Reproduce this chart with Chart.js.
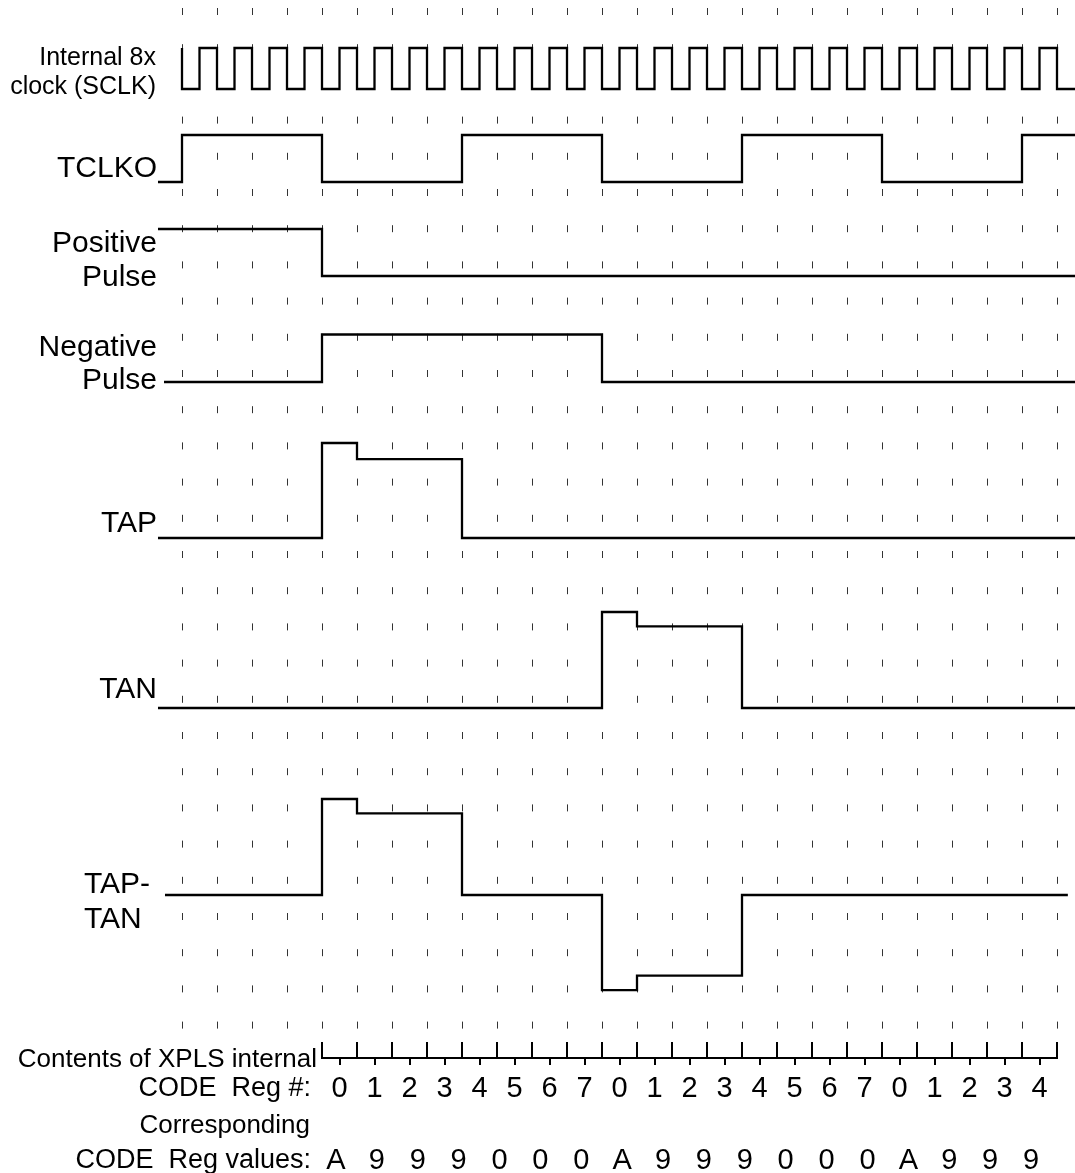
<!DOCTYPE html>
<html><head><meta charset="utf-8">
<script src="https://cdn.jsdelivr.net/npm/chart.js@4.4.1/dist/chart.umd.min.js"></script>
<style>html,body{margin:0;padding:0;background:#fff;}#wrap{width:1075px;height:1173px;}canvas{display:block;}</style>
</head><body><div id="wrap"><canvas id="c" width="1075" height="1173"></canvas></div>
<script>
// ---------------- DATA ----------------
// grid columns (clock periods)
const gridColumns = [0,1,2,3,4,5,6,7,8,9,10,11,12,13,14,15,16,17,18,19,20,21,22,23,24,25];

// signal transitions: time (in clock periods) and new logical level
const sclkTimes  = [0,0.5,1,1.5,2,2.5,3,3.5,4,4.5,5,5.5,6,6.5,7,7.5,8,8.5,9,9.5,10,10.5,11,11.5,12,12.5,13,13.5,14,14.5,15,15.5,16,16.5,17,17.5,18,18.5,19,19.5,20,20.5,21,21.5,22,22.5,23,23.5,24,24.5,25];
const sclkLevels = [0,1,0,1,0,1,0,1,0,1,0,1,0,1,0,1,0,1,0,1,0,1,0,1,0,1,0,1,0,1,0,1,0,1,0,1,0,1,0,1,0,1,0,1,0,1,0,1,0,1,0];
const tclkoTimes  = [0,4,8,12,16,20,24];
const tclkoLevels = [1,0,1,0,1,0,1];
const posTimes  = [4];
const posLevels = [0];
const negTimes  = [4,12];
const negLevels = [1,0];
const tapTimes  = [4,5,8];
const tapLevels = [1,0.83,0];
const tanTimes  = [12,13,16];
const tanLevels = [1,0.85,0];
const diffTimes  = [4,5,8,12,13,16];
const diffLevels = [1,0.85,0,-0.99,-0.84,0];
const initialLevels = [1,0,1,0,0,0,0];

const signalLabels = [["Internal 8x","clock (SCLK)"],["TCLKO"],["Positive","Pulse"],["Negative","Pulse"],["TAP"],["TAN"],["TAP-","TAN"]];

const regNumbers = ["0","1","2","3","4","5","6","7","0","1","2","3","4","5","6","7","0","1","2","3","4"];
const regValues  = ["A","9","9","9","0","0","0","A","9","9","9","0","0","0","A","9","9","9"];
const bottomLabels = ["Contents of XPLS internal","CODE  Reg #:","Corresponding","CODE  Reg values:"];

// ---------------- LAYOUT ----------------
const FONT = '"Liberation Sans", Arial, Helvetica, sans-serif';
const W = 1075, H = 1173;
const areaLeft = 150, areaTop = 8, areaBottom = 1030;
const col0Px = 182, colPx = 35;
const xMin = -(col0Px - areaLeft) / colPx;
const xMax = xMin + (W - areaLeft) / colPx;
const endX = xMax;
// lanes: [start, end, baseline(px), amplitude(px)]
const lanes = [
  [0,      endX,  89, 41],
  [-0.686, endX, 182, 47],
  [-0.686, endX, 276, 47],
  [-0.514, endX, 382, 47.5],
  [-0.686, endX, 538, 95],
  [-0.686, endX, 708, 96],
  [-0.486, 25.31, 895, 96]
];
const seriesTimes  = [sclkTimes, tclkoTimes, posTimes, negTimes, tapTimes, tanTimes, diffTimes];
const seriesLevels = [sclkLevels, tclkoLevels, posLevels, negLevels, tapLevels, tanLevels, diffLevels];
// label layout: [align, x, size, baselines]
const labelLayout = [
  ['right', 156, 25, [65, 94]],
  ['right', 157, 30, [177]],
  ['right', 157, 30, [252, 286]],
  ['right', 157, 30, [356, 389]],
  ['right', 157, 30, [532]],
  ['right', 157, 30, [698]],
  ['left',  84, 30, [893, 928]]
];

const datasets = lanes.map((ln, i) => {
  const [start, end, base, amp] = ln;
  const y = lv => base - amp * lv;
  const pts = [{x: start, y: y(initialLevels[i])}];
  seriesTimes[i].forEach((t, k) => pts.push({x: t, y: y(seriesLevels[i][k])}));
  pts.push({x: end, y: y(seriesLevels[i][seriesLevels[i].length - 1])});
  return {
    label: signalLabels[i].join(' '),
    data: pts, showLine: true, stepped: true,
    borderColor: '#000', borderWidth: 2.3, pointRadius: 0,
    borderJoinStyle: 'miter', borderCapStyle: 'butt', fill: false
  };
});

const textPlugin = {
  id: 'timingText',
  afterDraw(chart) {
    const ctx = chart.ctx, xs = chart.scales.x;
    ctx.save();
    ctx.fillStyle = '#000';
    ctx.strokeStyle = '#000';
    ctx.textBaseline = 'alphabetic';
    signalLabels.forEach((lines, i) => {
      const [align, x, size, bases] = labelLayout[i];
      ctx.font = size + 'px ' + FONT;
      ctx.textAlign = align;
      lines.forEach((t, k) => ctx.fillText(t, x, bases[k]));
    });
    // register axis
    const regStart = 4.5, axisY = 1058;
    const c0 = regStart - 0.5, c1 = regStart - 0.5 + regNumbers.length;
    ctx.lineWidth = 2;
    ctx.beginPath();
    ctx.moveTo(xs.getPixelForValue(c0) - 1, axisY);
    ctx.lineTo(xs.getPixelForValue(c1) + 1, axisY);
    for (let i = 0; i <= regNumbers.length; i++) {
      const px = Math.round(xs.getPixelForValue(c0 + i));
      ctx.moveTo(px, axisY);
      ctx.lineTo(px, axisY - 16);
    }
    for (let i = 0; i < regNumbers.length; i++) {
      const px = Math.round(xs.getPixelForValue(regStart + i));
      ctx.moveTo(px, axisY);
      ctx.lineTo(px, axisY + 7);
    }
    ctx.stroke();
    ctx.font = '29px ' + FONT;
    ctx.textAlign = 'center';
    regNumbers.forEach((n, i) => ctx.fillText(n, xs.getPixelForValue(regStart + i), 1097));
    const valStart = 4.4, valStep = 1.168;
    regValues.forEach((v, i) => ctx.fillText(v, xs.getPixelForValue(valStart + i * valStep), 1169));
    ctx.textAlign = 'right';
    ctx.font = '26px ' + FONT;
    ctx.fillText(bottomLabels[0], 317, 1067);
    ctx.font = '27px ' + FONT;
    ctx.fillText(bottomLabels[1], 311, 1096);
    ctx.font = '26px ' + FONT;
    ctx.fillText(bottomLabels[2], 310, 1133);
    ctx.font = '27px ' + FONT;
    ctx.fillText(bottomLabels[3], 311, 1168);
    ctx.restore();
  }
};

new Chart(document.getElementById('c'), {
  type: 'scatter',
  data: { datasets },
  options: {
    responsive: false, animation: false, devicePixelRatio: 1,
    layout: { padding: { left: areaLeft, top: areaTop, right: 0, bottom: H - areaBottom } },
    plugins: { legend: { display: false }, tooltip: { enabled: false } },
    scales: {
      x: {
        type: 'linear', min: xMin, max: xMax,
        afterBuildTicks: s => { s.ticks = gridColumns.map(v => ({ value: v })); },
        ticks: { display: false },
        grid: { display: true, drawTicks: false, color: '#333', lineWidth: 1 },
        border: { display: false, dash: [7, 29.2], dashOffset: 0 }
      },
      y: { type: 'linear', display: false, reverse: true, min: areaTop, max: areaBottom }
    }
  },
  plugins: [textPlugin]
});
</script></body></html>
